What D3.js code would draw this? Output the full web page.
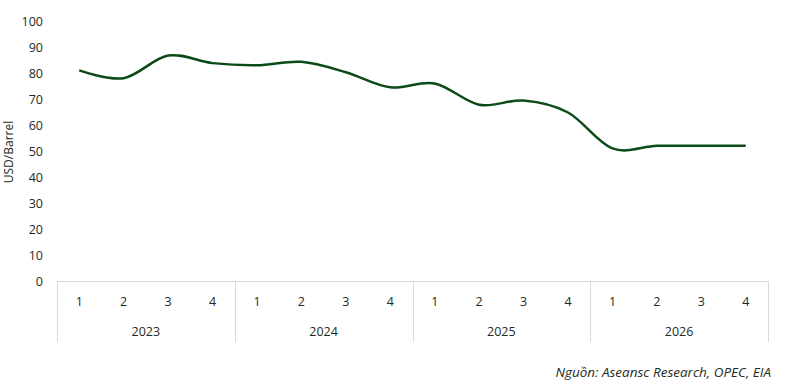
<!DOCTYPE html>
<html>
<head>
<meta charset="utf-8">
<script src="https://cdn.jsdelivr.net/npm/d3@7"></script>
<style>
  body { margin: 0; background: #fff; }
  svg text { font-family: "Open Sans", "Noto Sans", sans-serif; fill: #1f2a22; }
</style>
</head>
<body>
<svg id="chart" width="800" height="392"></svg>
<script>
// quarters / years shown on the two-level x axis
var years = ["2023", "2024", "2025", "2026"];
var quarters = ["1", "2", "3", "4"];
// oil price forecast, USD/Barrel, one value per quarter
var prices = [81, 78, 86.7, 83.8, 83, 84.3, 80.3, 74.5, 76, 67.8, 69.4, 64.8, 51, 52, 52, 52];
var yTicks = [0, 10, 20, 30, 40, 50, 60, 70, 80, 90, 100];

var svg = d3.select("#chart");
// note: "top" is reserved on window, so plot edges get their own names
var plotLeft = 57, plotRight = 768, plotTop = 21, plotBottom = 281;

var keys = [];
years.forEach(function (y) {
    quarters.forEach(function (q) { keys.push(y + "-" + q); });
});

var x = d3.scaleBand().domain(keys).range([plotLeft, plotRight]);
var yScale = d3.scaleLinear().domain([0, 100]).range([plotBottom, plotTop]);

// y axis labels, no axis line
var yAxis = svg.append("g")
    .attr("transform", "translate(" + (plotLeft - 14) + ",0)")
    .call(d3.axisLeft(yScale).tickValues(yTicks).tickSize(0).tickPadding(0));
yAxis.select(".domain").remove();
yAxis.selectAll("text").style("font-size", "12.5px").attr("fill", "#1f2a22");

svg.append("text")
    .attr("transform", "translate(13,152) rotate(-90)")
    .attr("text-anchor", "middle")
    .style("font-size", "12px")
    .text("USD/Barrel");

// category box under the plot
var grid = svg.append("g").attr("stroke", "#d9d9d9").attr("stroke-width", 1);
grid.append("line")
    .attr("x1", plotLeft).attr("x2", plotRight)
    .attr("y1", plotBottom + 0.5).attr("y2", plotBottom + 0.5);
years.forEach(function (y) {
    var xs = x(y + "-1");
    grid.append("line")
        .attr("x1", Math.round(xs) + 0.5).attr("x2", Math.round(xs) + 0.5)
        .attr("y1", plotBottom).attr("y2", 342);
});
grid.append("line")
    .attr("x1", plotRight + 0.5).attr("x2", plotRight + 0.5)
    .attr("y1", plotBottom).attr("y2", 342);

svg.selectAll(".qlab")
    .data(keys)
    .enter().append("text")
    .attr("class", "qlab")
    .attr("x", function (d) { return x(d) + x.bandwidth() / 2; })
    .attr("y", 306)
    .attr("text-anchor", "middle")
    .style("font-size", "12.5px")
    .text(function (d) { return d.split("-")[1]; });

svg.selectAll(".ylab")
    .data(years)
    .enter().append("text")
    .attr("class", "ylab")
    .attr("x", function (d) { return (x(d + "-1") + x(d + "-4") + x.bandwidth()) / 2; })
    .attr("y", 336)
    .attr("text-anchor", "middle")
    .style("font-size", "12.5px")
    .text(function (d) { return d; });

// smoothed price line
var line = d3.line()
    .x(function (d, i) { return x(keys[i]) + x.bandwidth() / 2; })
    .y(function (d) { return yScale(d); })
    .curve(d3.curveCatmullRom.alpha(0));

svg.append("path")
    .datum(prices)
    .attr("fill", "none")
    .attr("stroke", "#0d4a1a")
    .attr("stroke-width", 2.5)
    .attr("d", line);

svg.append("text")
    .attr("x", 771)
    .attr("y", 377)
    .attr("text-anchor", "end")
    .style("font-size", "13.5px")
    .style("font-style", "italic")
    .attr("fill", "#111")
    .text("Nguồn: Aseansc Research, OPEC, EIA");
</script>
</body>
</html>
